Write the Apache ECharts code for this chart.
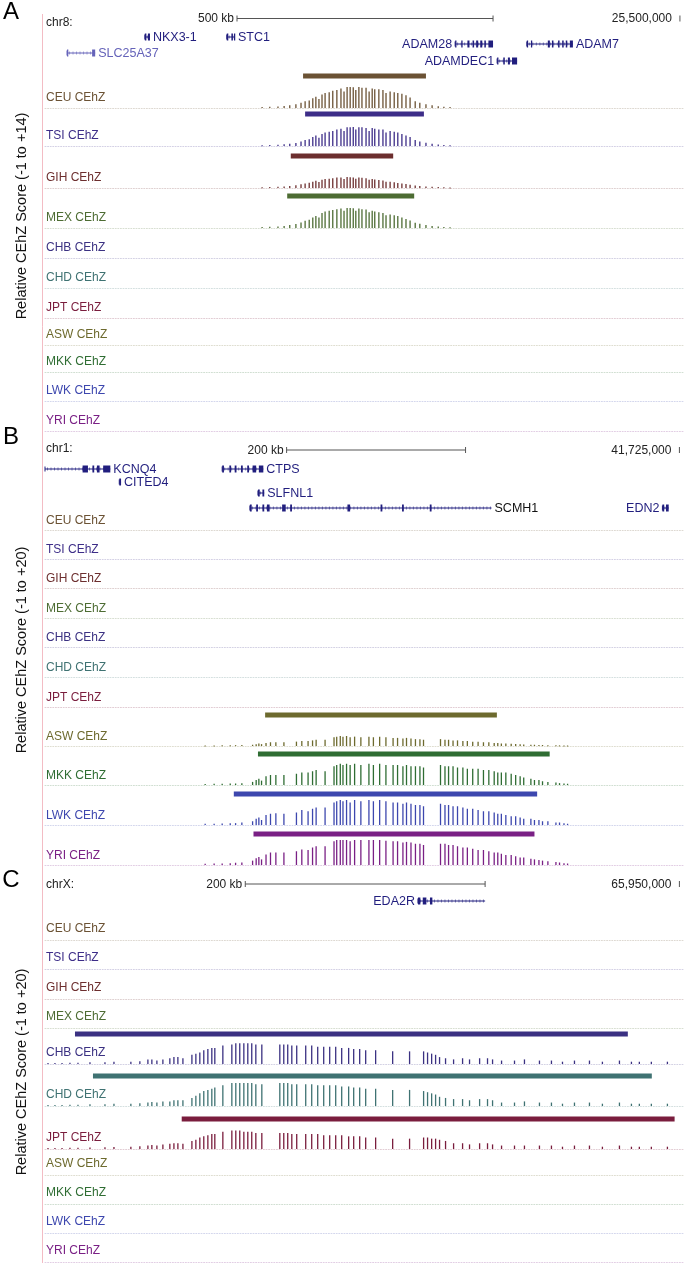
<!DOCTYPE html>
<html><head><meta charset="utf-8">
<script src="https://cdn.jsdelivr.net/npm/echarts@6/dist/echarts.min.js"></script>
<style>html,body{margin:0;padding:0;background:#fff}#c{width:685px;height:1263px}</style>
</head><body><div id="c"></div>
<script>
// ---------------- DATA ----------------
const populations = ['CEU','TSI','GIH','MEX','CHB','CHD','JPT','ASW','MKK','LWK','YRI'];
const chromNames = ['chr8:','chr1:','chrX:'];
const windowKb = [1246, 713, 532];
const scaleBarKb = [[375, 875], [270, 470], [167, 367]];
const scaleBarText = ['500 kb', '200 kb', '200 kb'];
const endCoordKb = [1240, 709, 529];
const endCoordText = ['25,500,000', '41,725,000', '65,950,000'];
const axisTitles = ['Relative CEhZ Score (-1 to +14)', 'Relative CEhZ Score (-1 to +20)', 'Relative CEhZ Score (-1 to +20)'];

// Panel A (chr8) SNP positions (kb from window start) and scores
const posA = [424,439,455,467,478,490,500,508,516,523,529,535,541,547,555,562,570,578,584,590,596,602,607,613,619,627,633,639,644,652,660,666,674,682,689,697,705,713,723,732,744,756,768,779,791];
const ceuA = [0.6,0.8,1,1.3,1.8,2.5,3.5,4.5,5,6.5, 7.5,6,9,10,10.5,11.5,12,13,11,14, 14,13.8,12,14,13.5,13.5,11,13,12.5,12.5, 12,10,11,10.5,10,9.5,8.5,7,4.5,3.5, 2.5,1.8,1.2,0.8,0.6];
const tsiA = [0.5,0.7,0.9,1.1,1.5,2,3,4,4.5,6, 7,5.5,8,9,9.5,10,11,11.5,10,12.5, 12.5,12.7,11,12.5,12.5,12,10,12,11.5,11, 11,9,10,9.5,9,8,7,6,4,3, 2.2,1.5,1,0.7,0.5];
const gihA = [0.5,0.6,0.8,1,1.3,1.8,2.5,3,3.5,4.2, 4.8,4,5.5,6,6.2,6.5,7,7,6,7.3, 7.2,7,6.2,7,6.8,6.5,5.5,6,5.7,5.4, 5,4.2,4.2,3.8,3.3,3,2.6,2.2,1.6,1.3, 1,0.8,0.6,0.5,0.4];
const mexA = [0.6,0.8,1,1.3,2,2.7,3.7,4.8,5.5,7, 8,7,10,11,11.5,12,12.5,13,11.5,13.3, 13.3,13.2,11.5,13,12.5,12.3,10.5,11.5,11,10.5, 10,8.5,9,8.5,8,7,6,5,3.5,2.8, 2,1.4,1,0.7,0.5];

// Panel B (chr1)
const posB = [179,189,198,207,213,220,232,236,239,242,247,252,258,267,281,287,294,299,303,313,323,326,330,333,337,341,346,353,362,367,374,381,389,394,400,404,409,414,419,423,442,447,451,456,461,467,472,478,484,490,496,502,506,510,515,521,526,531,535,543,547,552,556,562,571,575,580,584];
const aswB = [0.5,0.5,0.6,0.7,0.7,0.8,1,1.5,2,1.5,2.5,3,3,3,3.5,4,4,4.5,5,5,7,7.5,8,7.5,8,7,7.5,7,7.5,7,7.5,7,6.5,6.5,6,6.5,6,5.5,5.5,5,5.5,5,5,4.5,4.5,4,4,3.5,3.5,3,3,2.5,2.5,2,2,1.8,1.6,1.4,1.2,1,1,0.8,0.8,0.6,0.6,0.5,0.5,0.4];
const mkkB = [0.8,1,1,1.2,1.2,1.5,2.5,4,5,3.5,7,8,8,8,9,10,10,11,12,11,15,16,17,16,17,16,17,16,17,16,17,16,16,16,15,16,15,15,15,14,16,15,15,15,14,14,13,13,13,12,12,11,10,10,10,9,8,7,6,5,4,4,3,2.5,2,1.5,1.2,1];
const lwkB = [1,1,1.2,1.5,1.5,2,3,5,6,4,8,9,9.5,9,10,12,11,13,14,14,18,19,20,19,20,18,20,19,20,19,20,19,18,18,17,18,17,16,16,15,17,16,16,15,15,14,13,13,12,11,11,10,9,9,8,7,7,6,5,5,4,4,3,3,2,2,1.5,1];
const yriB = [1,1.2,1.3,1.5,1.8,2,3.5,5.5,6.5,4.5,8.5,10,10,10,11,12.5,12,14,15,15,19,20,20,20,20,19,20,20,20,20,20,19.5,19,19,18,18.5,18,17,17,16,17,17,16,16,15,14,14,13,12,12,11,10,10,9,8,8,7,6,6,5,4.5,4,3.5,3,2.5,2,1.5,1.2];

// Panel C (chrX)
const posC = [2.5,8.3,14.2,20.8,27.5,37.5,50,57.5,71.6,79.1,85.8,89.1,93.3,98.3,104.1,107.5,110.8,115,122.5,125.8,129.1,132.4,135.8,139.1,141.6,148.3,155.8,159.1,162.4,165.8,169.1,172.4,175.8,180.8,195.8,199.1,202.4,205.8,209.9,217.4,222.4,227.4,232.4,237.4,242.4,247.4,253.2,257.4,262.4,267.4,275.7,289.9,304,315.7,319,322.4,325.7,329,334,340.7,348.2,354,362.4,369,373.2,380.7,391.5,399.8,412.3,422.3,431.5,441.5,454,464.8,479,489,495.6,505.6,519];
const chbC = [0.8,0.8,0.8,1,1,1.5,1.5,2, 2,2.5,4,4,3,4,5,6,6,5, 8,9,10,12,13,14,14, 16,17,18,18,18,18,18,17,17, 17,17,17,16,16, 16,16,15,15,15,15,14,14, 13,13,12,12, 11,11, 11,10,9,8,6,5,4, 5,4,5,5,4, 3,3,4,3,3,2,3,3,2,3,2,2,2,2];
const chdC = [0.8,0.8,0.8,1,1,1.5,1.5,2, 2,2.5,3,3.5,3,4,4,5,5,5, 7,9,11,13,14,15,16, 18,20,20,20,20,20,20,19,19, 20,20,20,19,19, 19,19,18,18,18,18,17,17, 16,16,15,15, 14,14, 13,12,11,10,8,7,6, 6,5,6,6,5, 3,3,4,3,3,2,3,3,2,3,2,2,2,2];
const jptC = [0.8,0.8,0.8,1,1,1.2,1.5,1.8, 2,2.5,3,3.5,3,4,4.5,5,5,4.5, 7,8,10,11,12,13,13, 15,16,16,16,15,15,15,14,14, 14,14,14,13,13, 13,13,13,12,12,12,12,11, 11,11,10,10, 9,9, 10,10,9,9,8,7,5, 5,4,5,5,4, 3,3,3,3,3,2,3,3,2,3,2,2,2,2];

// Selected-region bars: [population, start kb, end kb]
const regionsA = [['CEU',504,744],['TSI',508,740],['GIH',480,680],['MEX',473,721]];
const regionsB = [['ASW',246,505],['MKK',238,564],['LWK',211,550],['YRI',233,547]];
const regionsC = [['CHB',25,486],['CHD',40,506],['JPT',114,525]];

// Genes: name, start, end, exons, label side
const genesA = [
  {name:'NKX3-1', start:195, end:205, exons:[[195,198],[201,205]], side:'right', lane:0},
  {name:'STC1', start:355, end:371, exons:[[355,358],[364,367],[369,371]], side:'right', lane:0},
  {name:'ADAM28', start:801, end:875, exons:[[801,803],[813,815],[825,829],[835,838],[842,846],[850,854],[858,861],[866,875]], side:'left', lane:1},
  {name:'ADAM7', start:941, end:1031, exons:[[941,943],[949,951],[982,986],[990,993],[1002,1005],[1010,1013],[1017,1020],[1025,1031]], side:'right', lane:1},
  {name:'SLC25A37', start:43, end:98, exons:[[43,44],[92,98]], side:'right', lane:2, light:true},
  {name:'ADAMDEC1', start:883, end:922, exons:[[883,885],[895,898],[904,908],[912,922]], side:'left', lane:3}
];
const genesB = [
  {name:'KCNQ4', start:0, end:73, exons:[[42,48],[53,55],[58,61],[65,73]], side:'right', lane:0},
  {name:'CTPS', start:198, end:244, exons:[[198,200],[206,208],[212,214],[219,221],[226,228],[232,236],[239,244]], side:'right', lane:0},
  {name:'CITED4', start:83, end:85, exons:[[83,85]], side:'right', lane:1},
  {name:'SLFNL1', start:238, end:245, exons:[[238,240],[243,245]], side:'right', lane:2},
  {name:'SCMH1', start:229, end:499, exons:[[229,231],[236,238],[243,245],[248,251],[265,269],[274,276],[338,341],[375,377],[399,401],[430,432]], side:'right', lane:3, blackText:true},
  {name:'EDN2', start:690, end:697, exons:[[690,692],[694,697]], side:'left', lane:3}
];
const genesC = [
  {name:'EDA2R', start:311, end:367, exons:[[311,313],[315,318],[321,323]], side:'left', lane:0}
];

// ---------------- STYLE / LAYOUT ----------------
const popColor = {CEU:'#6b5234',TSI:'#3d2d88',GIH:'#6c2e2e',MEX:'#4d6c33',CHB:'#3b3182',CHD:'#3f7272',JPT:'#7a1d3d',ASW:'#6d6a2e',MKK:'#2f6d33',LWK:'#3d47ae',YRI:'#7a2085'};
const FONT = 'Liberation Sans';
const X0 = 45, XW = 638;
const panels = [
  {letterY:12, chromY:23, scaleY:18.5, lanes:[37,44,53,61], annTop:8, annH:62, ppu:1.5, regionOff:32, titleY:216,
   labelY:[98,136,178,218,248,278,308,335,362,391,421], baseOff:10,
   pos:posA, series:{CEU:ceuA,TSI:tsiA,GIH:gihA,MEX:mexA}, regions:regionsA, genes:genesA},
  {letterY:437, chromY:449, scaleY:450, lanes:[469,482,493,508], annTop:440, annH:76, ppu:1.25, regionOff:31, titleY:650,
   labelY:[521,550,579,609,638,668,698,737,776,816,856], baseOff:9,
   pos:posB, series:{ASW:aswB,MKK:mkkB,LWK:lwkB,YRI:yriB}, regions:regionsB, genes:genesB},
  {letterY:880, chromY:885, scaleY:884, lanes:[901], annTop:875, annH:40, ppu:1.15, regionOff:30, titleY:1072,
   labelY:[929,958,988,1017,1053,1095,1138,1164,1193,1222,1251], baseOff:11,
   pos:posC, series:{CHB:chbC,CHD:chdC,JPT:jptC}, regions:regionsC, genes:genesC}
];
const GENE_COLOR = '#211e7e';
const GENE_LIGHT = '#6563b9';

const grids = [], xAxes = [], yAxes = [], series = [], graphics = [];
function addGrid(top, height, xmax, ymin, ymax, inverse, axisLine){
  const i = grids.length;
  grids.push({left:X0, width:XW, top:top, height:height, containLabel:false});
  xAxes.push({type:'value', gridIndex:i, min:0, max:xmax, show:!!axisLine,
    axisLine: axisLine ? {show:true, onZero:true, lineStyle:axisLine} : {show:false},
    axisTick:{show:false}, axisLabel:{show:false}, splitLine:{show:false}});
  yAxes.push({type:'value', gridIndex:i, min:ymin, max:ymax, inverse:!!inverse, show:false, splitLine:{show:false}});
  return i;
}

panels.forEach((P, pi) => {
  const win = windowKb[pi];
  const ai = addGrid(P.annTop, P.annH, win, 0, P.annH, true, null);
  const yOf = px => px - P.annTop;
  series.push({type:'custom', xAxisIndex:ai, yAxisIndex:ai, clip:false, silent:true,
    data:[[scaleBarKb[pi][0], scaleBarKb[pi][1], yOf(P.scaleY)]],
    renderItem:(params, api) => {
      const a = api.coord([api.value(0), api.value(2)]), b = api.coord([api.value(1), api.value(2)]);
      const st = {stroke:'#555', lineWidth:1};
      return {type:'group', children:[
        {type:'line', shape:{x1:a[0], y1:a[1], x2:b[0], y2:b[1]}, style:st},
        {type:'line', shape:{x1:a[0], y1:a[1]-3, x2:a[0], y2:a[1]+3}, style:st},
        {type:'line', shape:{x1:b[0], y1:b[1]-3, x2:b[0], y2:b[1]+3}, style:st},
        {type:'text', style:{text:scaleBarText[pi], x:a[0]-3, y:a[1]+0.5, align:'right', verticalAlign:'middle', fill:'#222', fontSize:12, fontFamily:FONT}}
      ]};
    }});
  series.push({type:'custom', xAxisIndex:ai, yAxisIndex:ai, clip:false, silent:true,
    data:[[endCoordKb[pi], yOf(P.scaleY)]],
    renderItem:(params, api) => {
      const a = api.coord([api.value(0), api.value(1)]);
      return {type:'group', children:[
        {type:'line', shape:{x1:a[0], y1:a[1]-3, x2:a[0], y2:a[1]+3}, style:{stroke:'#555', lineWidth:1}},
        {type:'text', style:{text:endCoordText[pi], x:a[0]-8, y:a[1]+0.5, align:'right', verticalAlign:'middle', fill:'#222', fontSize:12, fontFamily:FONT}}
      ]};
    }});
  series.push({type:'custom', xAxisIndex:ai, yAxisIndex:ai, clip:false, silent:true,
    data:P.genes.map(g => [g.start, g.end, yOf(P.lanes[g.lane])]),
    renderItem:(params, api) => {
      const g = P.genes[params.dataIndex];
      const y = api.value(2);
      const a = api.coord([api.value(0), y]), b = api.coord([api.value(1), y]);
      const col = g.light ? GENE_LIGHT : GENE_COLOR;
      const ch = [{type:'line', shape:{x1:a[0], y1:a[1], x2:b[0], y2:b[1]}, style:{stroke:col, lineWidth:1}}];
      for (let x = a[0] + 2.5; x < b[0] - 1; x += 3.5) {
        ch.push({type:'line', shape:{x1:x, y1:a[1]-1.5, x2:x, y2:a[1]+1.5}, style:{stroke:col, lineWidth:0.7, opacity:0.8}});
      }
      ch.push({type:'line', shape:{x1:a[0], y1:a[1]-2.5, x2:a[0], y2:a[1]+2.5}, style:{stroke:col, lineWidth:1}});
      g.exons.forEach(e => {
        const p = api.coord([e[0], y]), q = api.coord([e[1], y]);
        ch.push({type:'rect', shape:{x:p[0], y:p[1]-3.5, width:Math.max(1.3, q[0]-p[0]), height:7}, style:{fill:col}});
      });
      const left = g.side === 'left';
      ch.push({type:'text', style:{text:g.name, x: left ? a[0]-3 : b[0]+3, y:a[1]+0.5, align: left ? 'right' : 'left', verticalAlign:'middle',
        fill: g.blackText ? '#111' : col, fontSize:12.5, fontFamily:FONT}});
      return {type:'group', children:ch};
    }});

  const ymax = (P.regionOff + 5) / P.ppu;
  populations.forEach((pop, ti) => {
    const base = P.labelY[ti] + P.baseOff;
    const col = popColor[pop];
    const gi = addGrid(base - ymax * P.ppu, (ymax + 1) * P.ppu, win, -1, ymax, false,
      {color:col, opacity:0.22, width:1, type:[1, 1.6]});
    const vals = P.series[pop];
    if (vals) {
      series.push({type:'custom', xAxisIndex:gi, yAxisIndex:gi, clip:false, silent:true,
        itemStyle:{color:col},
        data:P.pos.map((p, k) => [p, vals[k]]),
        renderItem:(params, api) => {
          const p0 = api.coord([api.value(0), 0]), p1 = api.coord([api.value(0), api.value(1)]);
          return {type:'rect', shape:{x:p0[0]-0.65, y:p1[1], width:1.3, height:Math.max(1, p0[1]-p1[1])}, style:{fill:col}};
        }});
    }
    const reg = P.regions.find(r => r[0] === pop);
    if (reg) {
      const rY = P.regionOff / P.ppu;
      series.push({type:'custom', xAxisIndex:gi, yAxisIndex:gi, clip:false, silent:true,
        data:[[reg[1], reg[2], rY]],
        renderItem:(params, api) => {
          const a = api.coord([api.value(0), api.value(2)]), b = api.coord([api.value(1), api.value(2)]);
          return {type:'rect', shape:{x:a[0], y:a[1]-2.5, width:b[0]-a[0], height:5}, style:{fill:col}};
        }});
    }
    graphics.push({type:'text', x:46, y:P.labelY[ti], style:{text:pop + ' CEhZ', fill:col, fontSize:12, fontFamily:FONT, align:'left', verticalAlign:'middle'}});
  });

  graphics.push({type:'text', x:11, y:P.letterY, style:{text:['A','B','C'][pi], fill:'#000', fontSize:24, fontFamily:FONT, align:'center', verticalAlign:'middle'}});
  graphics.push({type:'text', x:46, y:P.chromY, style:{text:chromNames[pi], fill:'#222', fontSize:12, fontFamily:FONT, align:'left', verticalAlign:'middle'}});
  graphics.push({type:'text', x:22, y:P.titleY, rotation:Math.PI/2, style:{text:axisTitles[pi], fill:'#111', fontSize:14.5, fontFamily:FONT, align:'center', verticalAlign:'middle'}});
});
graphics.push({type:'line', shape:{x1:42.5, y1:14, x2:42.5, y2:1263}, style:{stroke:'#f3bcc4', lineWidth:1}});

const chart = echarts.init(document.getElementById('c'), null, {renderer:'canvas', width:685, height:1263});
chart.setOption({animation:false, backgroundColor:'#fff', grid:grids, xAxis:xAxes, yAxis:yAxes, series:series, graphic:graphics});
</script></body></html>
